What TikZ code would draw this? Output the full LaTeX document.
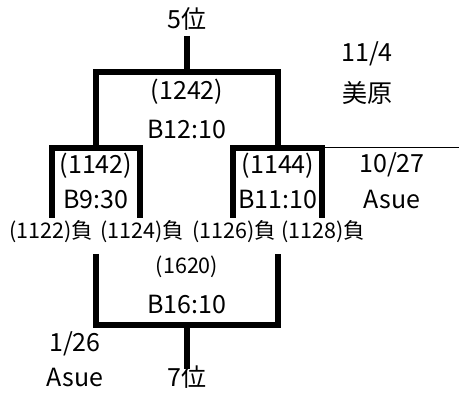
\documentclass[tikz,border=0pt]{standalone}
\usepackage{fontspec}
\setmainfont{Noto Sans CJK JP}
\begin{document}
\begin{tikzpicture}[x=1pt,y=-1pt,line join=miter,
  big/.style={font=\fontsize{25}{27}\selectfont,inner sep=0pt},
  small/.style={font=\fontsize{21.5}{23}\selectfont,inner sep=0pt},
  bracket/.style={line width=6pt},
  rule/.style={line width=1pt}]
  \useasboundingbox (0,0) rectangle (459,395);

  % rank labels and dates
  \node[big] (top) at (187,19) {5位};
  \node[big] (bottom) at (187,377) {7位};
  \node[big] (d1) at (367,54) {11/4};
  \node[big] (p1) at (367,93) {美原};
  \node[big] (d2) at (392,165) {10/27};
  \node[big] (p2) at (392,200) {Asue};
  \node[big] (d3) at (75,344) {1/26};
  \node[big] (p3) at (75,378) {Asue};

  % matches
  \node[big] (m1) at (187,92) {(1242)};
  \node[big] (c1) at (187,130) {B12:10};
  \node[big] (m2) at (96,166) {(1142)};
  \node[big] (c2) at (96,200) {B9:30};
  \node[big] (m3) at (278,166) {(1144)};
  \node[big] (c3) at (278,200) {B11:10};
  \node[small] (m4) at (187,267) {(1620)};
  \node[big] (c4) at (187,305) {B16:10};

  % losers
  \node[small] (l1) at (51,232) {(1122)負};
  \node[small] (l2) at (142,232) {(1124)負};
  \node[small] (l3) at (234,232) {(1126)負};
  \node[small] (l4) at (323,232) {(1128)負};

  % bracket corners
  \coordinate (t0) at (187,36);
  \coordinate (t1) at (96,72);
  \coordinate (t2) at (278,72);
  \coordinate (a1) at (52,148);
  \coordinate (a2) at (140,148);
  \coordinate (b1) at (233,148);
  \coordinate (b2) at (322,148);
  \coordinate (e) at (459,148);
  \coordinate (u1) at (96,254);
  \coordinate (u2) at (278,254);
  \coordinate (u0) at (187,325);
  \coordinate (s0) at (187,369);

  \draw[bracket] (t0) -- (t0 |- t1);
  \draw[bracket] (t1 |- a1) -- (t1) -- (t2) -- (t2 |- b1);
  \draw[bracket] (a1 |- 0,218) -- (a1) -- (a2) -- (a2 |- 0,218);
  \draw[bracket] (b1 |- 0,218) -- (b1) -- (b2) -- (b2 |- 0,218);
  \draw[rule] (b2) -- (e);
  \draw[bracket] (u1) -- (u1 |- u0) -- (u2 |- u0) -- (u2);
  \draw[bracket] (u0) -- (s0);
\end{tikzpicture}
\end{document}
